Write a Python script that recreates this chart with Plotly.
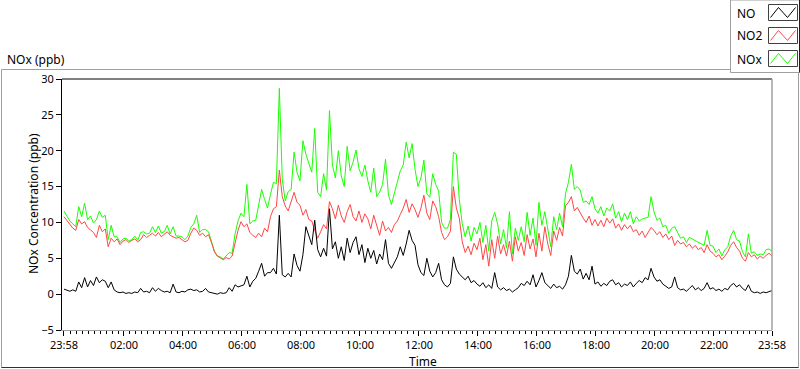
import plotly.graph_objects as go
import pandas as pd

# ---------------- data (6-minute readings, 23:58 -> 23:58) ----------------
start_time = "2000-01-01 23:58"
step = "6min"

no = [
    0.7, 0.5, 0.4, 0.6, 0.4, 1.7, 0.9, 2.3, 1.0, 1.9,
    1.2, 2.4, 1.6, 2.0, 1.8, 0.9, 1.7, 0.6, 0.3, 0.2,
    0.3, 0.1, 0.2, 0.1, 0.3, 0.2, 0.8, 0.3, 0.4, 0.2,
    0.9, 0.4, 0.8, 0.5, 0.3, 0.4, 0.2, 1.4, 0.3, 0.2,
    0.4, 0.3, 0.6, 0.7, 0.5, 0.6, 0.3, 0.4, 0.8, 0.3,
    0.2, 0.1, 0.0, 0.2, 0.1, 0.2, 0.9, 0.4, 1.3, 1.0,
    1.1, 1.3, 2.5, 1.0, 1.8, 2.2, 3.2, 4.3, 2.5, 3.0,
    3.0, 3.6, 2.8, 11.0, 2.7, 2.4, 2.9, 2.4, 5.6, 4.0,
    3.2, 5.5, 9.4, 8.0, 6.9, 10.3, 6.2, 5.2, 6.4, 5.3,
    11.9, 6.3, 7.3, 5.0, 6.6, 4.7, 7.8, 5.8, 7.2, 8.0,
    5.5, 6.9, 4.4, 6.4, 5.0, 6.1, 4.2, 5.6, 4.8, 7.6,
    4.3, 3.6, 4.5, 5.2, 6.6, 5.4, 7.0, 8.9, 7.5, 6.8,
    4.1, 3.0, 2.6, 5.0, 3.2, 2.4, 3.0, 4.3, 2.0, 1.3,
    1.0, 1.5, 5.2, 3.5, 2.8, 2.4, 2.0, 2.5, 1.6, 1.9,
    1.4, 1.1, 1.6, 0.9, 1.3, 0.8, 3.0, 1.0, 0.6, 0.9,
    0.5, 0.7, 0.3, 0.6, 0.9, 1.5, 1.2, 1.8, 1.3, 2.7,
    1.0, 1.9, 3.0, 1.6, 1.2, 0.8, 1.4, 0.9, 1.1, 0.7,
    1.3, 2.5, 5.4, 3.2, 2.8, 3.5, 2.1, 2.9, 2.0, 3.9,
    1.4, 1.7, 1.1, 1.5, 1.2, 1.8, 2.0, 1.3, 1.6, 1.0,
    1.4, 1.2, 1.7, 1.0, 1.5, 1.9, 1.6, 2.3, 2.0, 3.6,
    2.4, 1.8, 2.0, 1.4, 1.1, 0.8, 1.0, 2.4, 0.9, 0.6,
    0.7, 0.4, 0.8, 1.2, 0.6, 0.9, 0.5, 0.8, 1.6, 0.7,
    0.9, 0.5, 0.7, 0.4, 0.8, 0.6, 1.2, 1.5, 1.0, 1.3,
    0.8, 0.5, 1.3, 0.4, 0.2, 0.3, 0.1, 0.3, 0.2, 0.4, 0.5,
]

no2 = [
    10.8, 10.3, 9.8, 9.2, 8.9, 10.4, 9.8, 10.1, 9.3, 8.9,
    8.6, 7.9, 9.6, 8.7, 9.1, 6.6, 7.8, 7.3, 7.7, 6.9,
    7.4, 7.6, 7.2, 7.5, 7.7, 7.3, 7.6, 8.3, 7.9, 8.2,
    8.5, 8.1, 8.6, 8.0, 8.3, 8.7, 8.2, 8.0, 7.8, 7.9,
    7.6, 7.3, 7.5, 8.5, 9.2, 8.9, 8.2, 8.5, 8.0, 8.3,
    7.2, 5.9, 5.3, 5.0, 4.8, 5.1, 4.9, 5.3, 7.0, 8.9,
    10.1, 9.4, 9.8, 8.6, 8.2, 7.9, 8.5, 8.0, 9.2, 8.7,
    10.8, 11.9, 12.2, 17.3, 13.6, 12.3, 11.6, 12.9, 14.2, 12.8,
    12.4, 11.0, 11.8, 10.4, 10.2, 8.9, 7.8, 8.7, 9.7, 9.1,
    12.9, 11.9, 10.5, 12.4, 10.9, 10.0, 11.5, 12.5, 10.8, 10.2,
    11.6, 10.0, 11.2, 10.5, 9.1, 11.0, 9.7, 8.2, 10.2, 8.8,
    9.3, 8.6, 9.7, 10.2, 11.1, 12.0, 13.2, 11.4, 12.6, 11.8,
    10.7, 12.0, 13.8, 11.3, 10.4, 13.0, 12.2, 10.8, 8.6, 7.6,
    8.0, 8.8, 15.0, 12.0, 10.6, 7.3, 5.8, 6.7, 5.5, 7.1,
    6.2, 7.8, 4.8, 6.9, 3.9, 7.6, 5.0, 8.1, 5.6, 6.9,
    5.3, 7.4, 4.6, 8.0, 6.0, 7.2, 5.4, 8.3, 6.3, 7.7,
    5.2, 8.5, 6.0, 9.4, 7.0, 5.4, 8.8, 7.5, 9.3, 8.1,
    12.3, 12.8, 13.6, 11.6, 12.1, 11.3, 10.6, 10.0, 10.9, 9.6,
    10.4, 9.5, 10.3, 9.4, 10.6, 9.9, 10.5, 9.2, 9.8, 8.9,
    9.7, 9.1, 9.6, 8.7, 9.0, 8.2, 8.8, 7.9, 8.6, 9.3,
    8.9, 8.3, 8.7, 7.9, 8.4, 7.6, 8.1, 6.8, 7.5, 7.0,
    7.2, 6.6, 7.0, 6.4, 6.8, 6.2, 6.5, 5.8, 6.9, 6.0,
    5.7, 5.2, 5.5, 4.8, 5.3, 5.9, 6.8, 7.3, 6.5, 6.0,
    5.0, 4.6, 5.8, 5.2, 5.5, 4.9, 5.3, 5.0, 5.4, 5.7, 5.3,
]

nox = [
    11.6, 10.8, 10.2, 9.8, 9.4, 12.2, 10.8, 12.7, 10.4, 10.9,
    9.9, 10.4, 11.6, 10.7, 11.0, 7.6, 9.6, 8.0, 8.0, 7.2,
    7.7, 7.8, 7.4, 7.6, 8.1, 7.5, 8.6, 8.7, 8.4, 8.5,
    9.4, 8.6, 9.5, 8.5, 8.7, 9.6, 8.4, 9.4, 8.1, 8.1,
    8.0, 7.6, 8.1, 9.3, 9.8, 11.0, 8.6, 9.0, 9.0, 8.7,
    7.4, 6.0, 5.3, 5.2, 4.9, 5.3, 5.8, 5.7, 8.4, 10.2,
    11.3, 10.8, 15.3, 9.8, 10.2, 10.3, 12.4, 14.6, 13.2, 12.0,
    13.9, 15.6, 15.4, 28.7, 16.0, 13.0, 14.3, 14.6, 19.8, 17.0,
    15.8, 21.4, 19.5, 18.2, 17.0, 23.1, 14.2, 13.6, 16.8, 14.5,
    25.6, 18.0, 16.2, 20.0, 16.5, 15.0, 20.6, 17.2, 18.4, 20.1,
    17.5, 16.4, 18.0, 15.8, 14.2, 17.6, 13.6, 14.2, 15.3, 18.8,
    13.8, 12.5, 14.0, 15.8, 17.2, 18.0, 21.2, 19.0, 21.0, 17.4,
    15.0, 16.2, 18.7, 14.0, 13.5, 16.8, 15.3, 14.4, 10.0, 9.2,
    9.2, 10.4, 19.8, 19.5, 13.2, 9.8, 8.0, 9.5, 7.4, 9.3,
    8.4, 10.0, 7.2, 9.6, 6.0, 10.2, 11.4, 9.8, 7.0, 9.0,
    6.4, 11.5, 5.6, 9.2, 7.5, 9.4, 7.3, 11.4, 8.2, 10.6,
    6.8, 12.8, 9.6, 11.5, 8.8, 6.6, 10.8, 9.0, 11.3, 9.4,
    14.0, 15.6, 18.1, 14.6, 15.0, 14.5, 12.8, 13.0, 12.5, 13.6,
    11.9, 11.3, 12.2, 10.9, 12.0, 11.6, 12.6, 10.6, 11.5, 10.1,
    11.3, 10.4, 11.5, 9.8, 10.8, 10.2, 10.5, 10.6, 10.7, 13.6,
    11.5, 10.3, 10.6, 9.4, 9.6, 8.5, 9.2, 9.4, 8.5, 7.8,
    8.0, 7.2, 7.9, 7.7, 7.5, 7.2, 7.0, 6.8, 8.9, 6.8,
    6.7, 5.8, 6.3, 5.3, 6.2, 6.6, 8.1, 8.9, 7.6, 7.4,
    5.9, 5.2, 8.4, 5.7, 5.9, 5.4, 5.6, 5.5, 6.2, 6.3, 6.0,
]

tick_times = [
    "2000-01-01 23:58", "2000-01-02 02:00", "2000-01-02 04:00",
    "2000-01-02 06:00", "2000-01-02 08:00", "2000-01-02 10:00",
    "2000-01-02 12:00", "2000-01-02 14:00", "2000-01-02 16:00",
    "2000-01-02 18:00", "2000-01-02 20:00", "2000-01-02 22:00",
    "2000-01-02 23:58",
]
tick_labels = ["23:58", "02:00", "04:00", "06:00", "08:00", "10:00", "12:00",
               "14:00", "16:00", "18:00", "20:00", "22:00", "23:58"]
y_ticks = [-5, 0, 5, 10, 15, 20, 25, 30]

series_names = ["NO", "NO2", "NOx"]
series_colors = ["#000000", "#ff4646", "#19ff00"]

assert len(no) == len(no2) == len(nox) == 241

times = pd.date_range(start_time, periods=len(no), freq=step)
minor_ticks = pd.date_range("2000-01-02 00:12", "2000-01-02 23:48", freq="12min")

# ---------------- layout geometry (pixels) ----------------
W, H = 800, 369
L, R, T, B = 62, 772, 79, 330
FONT = "Noto Sans"


def px(x):
    return (x - L) / (R - L)


def py(y):
    return (B - y) / (B - T)


fig = go.Figure()
data = {"NO": no, "NO2": no2, "NOx": nox}
for name in ["NOx", "NO2", "NO"]:
    color = series_colors[series_names.index(name)]
    fig.add_trace(go.Scatter(
        x=times, y=data[name], mode="lines", name=name,
        line=dict(color=color, width=1),
        showlegend=False, hoverinfo="skip",
    ))

x_start = pd.Timestamp(start_time) - pd.Timedelta(minutes=4)
x_end = times[-1]

fig.update_layout(
    width=W, height=H,
    margin=dict(l=L, r=W - R, t=T, b=H - B, pad=0),
    paper_bgcolor="white", plot_bgcolor="white",
    font=dict(family=FONT, size=11, color="black"),
    xaxis=dict(
        type="date", range=[x_start, x_end],
        tickmode="array", tickvals=pd.to_datetime(tick_times), ticktext=tick_labels,
        ticks="outside", ticklen=5, tickcolor="black", tickwidth=1,
        showgrid=False, zeroline=False,
        showline=True, linecolor="#a0a0a0", linewidth=1,
        tickfont=dict(family=FONT, size=11, color="black"),
        minor=dict(tickvals=minor_ticks, ticks="outside", ticklen=3,
                   tickcolor="black", tickwidth=1, showgrid=False),
        fixedrange=True,
    ),
    yaxis=dict(
        range=[-5, 30], tickmode="array", tickvals=y_ticks,
        ticks="outside", ticklen=5, tickcolor="black", tickwidth=1,
        showgrid=False, zeroline=False,
        showline=True, linecolor="black", linewidth=1,
        tickfont=dict(family=FONT, size=11, color="black"),
        fixedrange=True,
    ),
)

shapes = []
# outer panel frame
shapes.append(dict(type="rect", xref="paper", yref="paper",
                   x0=px(1.5), x1=px(798.5), y0=py(367.5), y1=py(69.5),
                   line=dict(color="#a0a0a0", width=1), fillcolor="rgba(0,0,0,0)", layer="below"))
shapes.append(dict(type="line", xref="paper", yref="paper",
                   x0=px(1.5), x1=px(798.5), y0=py(367.5), y1=py(367.5),
                   line=dict(color="#303030", width=1)))
# plot area top (black) and right (gray) borders
shapes.append(dict(type="line", xref="paper", yref="paper",
                   x0=0, x1=1, y0=1, y1=1, line=dict(color="black", width=1)))
shapes.append(dict(type="line", xref="paper", yref="paper",
                   x0=1, x1=1, y0=0, y1=1, line=dict(color="#a0a0a0", width=1.5)))
# legend box
shapes.append(dict(type="rect", xref="paper", yref="paper",
                   x0=px(730.5), x1=px(799.5), y0=py(72.5), y1=py(0),
                   line=dict(color="#a0a0a0", width=1), fillcolor="white"))
shapes.append(dict(type="line", xref="paper", yref="paper",
                   x0=px(799.5), x1=px(799.5), y0=py(72.5), y1=py(0),
                   line=dict(color="#202020", width=1)))

annotations = []
legend_rows = [13, 36, 59]
for name, color, cy in zip(series_names, series_colors, legend_rows):
    annotations.append(dict(text=name, xref="paper", yref="paper",
                            x=px(735), y=py(cy), xanchor="left", yanchor="middle",
                            showarrow=False, font=dict(family=FONT, size=12, color="black")))
    bx0, bx1 = 768.5, 797.5
    by0, by1 = cy - 8.5, cy + 7.5
    shapes.append(dict(type="rect", xref="paper", yref="paper",
                       x0=px(bx0), x1=px(bx1), y0=py(by1), y1=py(by0),
                       line=dict(color="#404040", width=1), fillcolor="white"))
    zig = [(bx0 + 2, by1 - 3), (bx0 + 10, by0 + 3), (bx0 + 19, by1 - 3), (bx0 + 27, by0 + 3)]
    path = "M " + " L ".join(f"{px(a):.5f},{py(b):.5f}" for a, b in zig)
    shapes.append(dict(type="path", xref="paper", yref="paper", path=path,
                       line=dict(color=color, width=1)))

annotations.append(dict(text="NOx (ppb)", xref="paper", yref="paper",
                        x=px(5), y=py(59), xanchor="left", yanchor="middle",
                        showarrow=False, font=dict(family=FONT, size=12, color="black")))
annotations.append(dict(text="NOx Concentration (ppb)", xref="paper", yref="paper",
                        x=px(33), y=py(204), xanchor="center", yanchor="middle", textangle=-90,
                        showarrow=False, font=dict(family=FONT, size=12, color="black")))
annotations.append(dict(text="Time", xref="paper", yref="paper",
                        x=px(423), y=py(361), xanchor="center", yanchor="middle",
                        showarrow=False, font=dict(family=FONT, size=12, color="black")))

fig.update_layout(shapes=shapes, annotations=annotations)
fig.write_html("out.html", config={"displayModeBar": False},
               post_script="document.body.style.margin='0';document.body.style.overflow='hidden';")
